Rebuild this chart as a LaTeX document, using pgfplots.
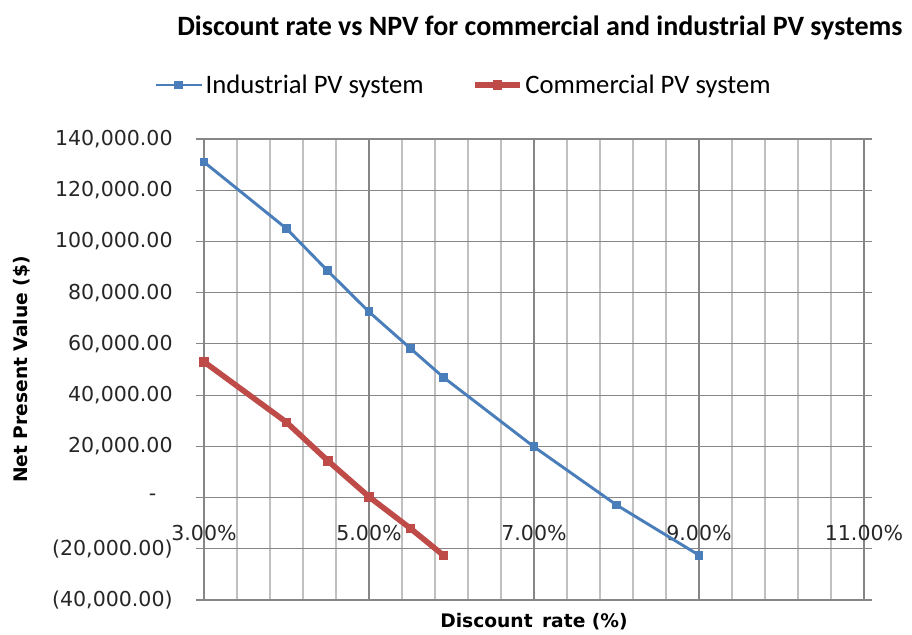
\documentclass[border=0pt]{standalone}
\usepackage{pgfplots}
\pgfplotsset{compat=1.18}
\usepackage{fontspec}
\setmainfont{DejaVu Sans}
\newfontfamily\calibri{Carlito}
\definecolor{indblue}{RGB}{74,126,187}
\definecolor{comred}{RGB}{190,75,72}
\definecolor{majgrid}{RGB}{134,134,134}
\definecolor{mingrid}{RGB}{192,192,192}
\begin{document}
\begin{tikzpicture}
\begin{axis}[
  scale only axis, width=495pt, height=345.75pt,
  xmin=3, xmax=11, ymin=-40000, ymax=140000,
  scaled y ticks=false,
  xtick={3,5,7,9,11},
  xticklabels={3.00\%,5.00\%,7.00\%,9.00\%,11.00\%},
  minor x tick num=4,
  ytick={-40000,-20000,0,20000,40000,60000,80000,100000,120000,140000},
  yticklabels={{(40,000.00)},{(20,000.00)},{-\rule{0.8em}{0pt}},{20,000.00},{40,000.00},{60,000.00},{80,000.00},{100,000.00},{120,000.00},{140,000.00}},
  xmajorgrids, ymajorgrids, xminorgrids,
  major grid style={majgrid, line width=0.9pt},
  minor grid style={mingrid, line width=0.9pt},
  axis line style={majgrid, line width=0.9pt},
  xtick style={draw=none},
  minor tick length=0pt,
  ytick style={majgrid, line width=0.9pt},
  tick align=outside, major tick length=6pt,
  tick label style={font=\fontsize{15.4}{18}\selectfont, text=black!85},
  yticklabel style={xshift=-14pt},
  xticklabel style={anchor=center, yshift=56.25pt},
  xlabel={Discount\hspace{0.5em}rate (\%)},
  ylabel={Net Present Value (\$)},
  xlabel style={at={([yshift=-16.5pt]axis description cs:0.5,0)}, anchor=center, font=\bfseries\fontsize{14}{16}\selectfont},
  ylabel style={at={([xshift=-136.5pt]axis description cs:0,0.5)}, anchor=center, font=\bfseries\fontsize{14}{16}\selectfont},
  clip=false,
  legend columns=2,
  legend style={at={([yshift=40.5pt]axis description cs:0.394,1)}, anchor=center, draw=none, fill=none,
    font=\calibri\fontsize{20}{23}\selectfont,
    /tikz/every even column/.append style={column sep=34pt}},
  legend image code/.code={\draw[mark repeat=2,mark phase=2,#1] plot coordinates {(0pt,0pt) (17pt,0pt) (34pt,0pt)};},
]
\addplot[indblue, line width=2.2pt, mark=square*, mark size=2.2pt, mark options={solid}]
  coordinates {(3,131000) (4,105000) (4.5,88500) (5,72500) (5.5,58300) (5.9,47000) (7,19800) (8,-2900) (9,-22500)};
\addlegendentry{Industrial PV system}
\addplot[comred, line width=4.2pt, mark=square*, mark size=3.2pt, mark options={solid, line width=0.5pt}]
  coordinates {(3,53000) (4,29400) (4.5,14400) (5,300) (5.5,-12000) (5.9,-22500)};
\addlegendentry{Commercial PV system}
\node[font=\calibri\bfseries\fontsize{21}{24}\selectfont, anchor=center] at ([yshift=83.25pt]rel axis cs:0.509,1) {Discount rate vs NPV for commercial and industrial PV systems};
\coordinate (SW) at (rel axis cs:0,0);
\coordinate (NE) at (rel axis cs:1,1);
\end{axis}
\path ([shift={(-153pt,-25.5pt)}]SW) rectangle ([shift={(36pt,104.25pt)}]NE);
\end{tikzpicture}
\end{document}
